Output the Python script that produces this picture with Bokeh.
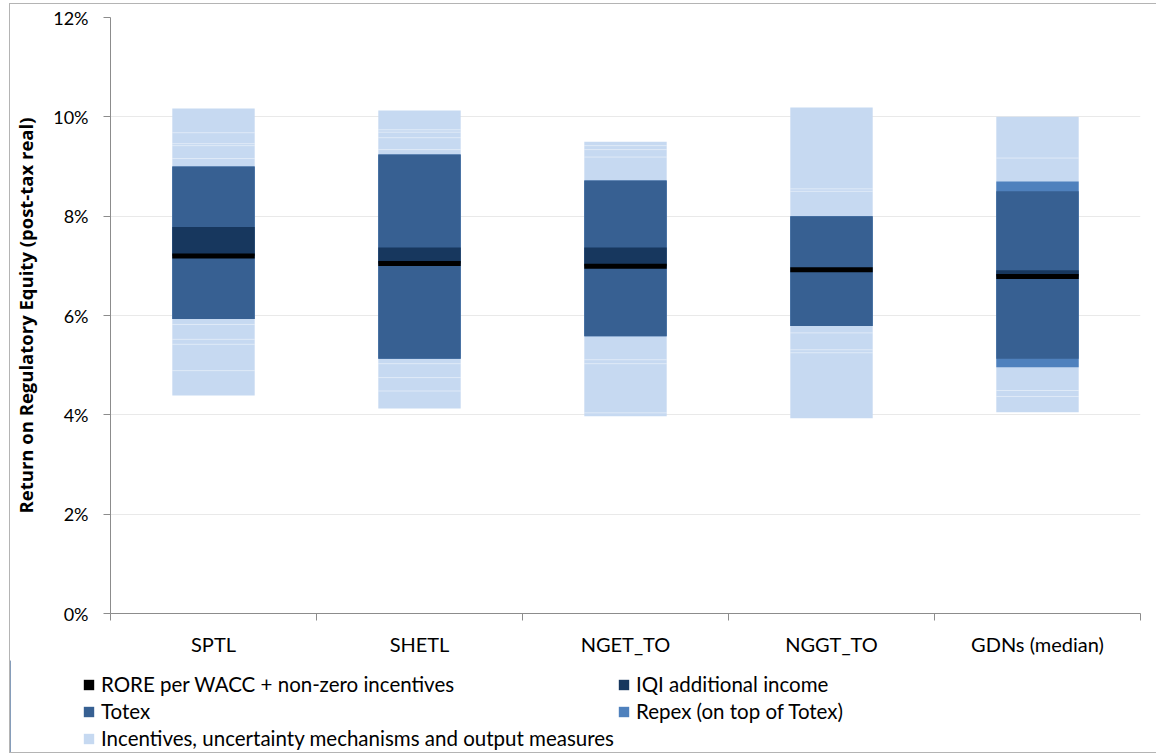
import numpy as np
from bokeh.plotting import figure
from bokeh.layouts import column
from bokeh.models import (ColumnDataSource, FixedTicker, PrintfTickFormatter,
                          Legend, LegendItem, Range1d)
from bokeh.embed import file_html
from bokeh.resources import INLINE

# ---------------- data (percent, post-tax real) ----------------
categories = ["SPTL", "SHETL", "NGET_TO", "NGGT_TO", "GDNs (median)"]
incentives_low = [4.39, 4.13, 3.97, 3.93, 4.05]
incentives_high = [10.17, 10.13, 9.50, 10.19, 10.00]
repex_low = [5.93, 5.13, 5.58, 5.79, 4.96]
repex_high = [9.00, 9.24, 8.72, 8.00, 8.70]
totex_low = [5.93, 5.13, 5.58, 5.79, 5.13]
totex_high = [9.00, 9.24, 8.72, 8.00, 8.50]
iqi_high = [7.78, 7.37, 7.37, 6.92, 6.91]
rore = [7.20, 7.045, 6.99, 6.92, 6.785]
incentive_breaks = [
    [9.68, 9.46, 9.42, 9.16, 5.82, 5.52, 5.42, 4.89],
    [9.74, 9.69, 9.58, 9.34, 5.03, 4.75, 4.48],
    [9.42, 9.34, 9.19, 5.11, 5.03, 4.04],
    [8.55, 8.50, 5.65, 5.31, 5.25],
    [9.17, 4.49, 4.37],
]
y_ticks = [0, 2, 4, 6, 8, 10, 12]
legend_labels = [
    "RORE per WACC + non-zero incentives",
    "IQI additional income",
    "Totex",
    "Repex (on top of Totex)",
    "Incentives, uncertainty mechanisms and output measures",
]

# ---------------- styling ----------------
FONT = "Lato"
C_LIGHT = "#c6d9f1"
C_TOTEX = "#376092"
C_IQI = "#17375e"
C_REPEX = "#4f81bd"
C_RORE = "#000000"
AXIS_C = "#8c8c8c"
BAR_W = 0.4

xs = np.arange(1, len(categories) + 1)

src = ColumnDataSource(dict(
    x=xs, inc_lo=incentives_low, inc_hi=incentives_high,
    rep_lo=repex_low, rep_hi=repex_high,
    tot_lo=totex_low, tot_hi=totex_high,
    iqi_hi=iqi_high, rore=rore,
))

bx0, bx1, by = [], [], []
for xi, brks in zip(xs, incentive_breaks):
    for b in brks:
        bx0.append(xi - BAR_W / 2)
        bx1.append(xi + BAR_W / 2)
        by.append(b)
brk_src = ColumnDataSource(dict(x0=bx0, x1=bx1, y=by))

p = figure(width=1146, height=656,
           x_range=Range1d(0.5, len(categories) + 0.5), y_range=Range1d(0, 12),
           output_backend="svg", toolbar_location=None,
           min_border_left=97, min_border_right=16, min_border_top=13,
           min_border_bottom=47)
p.outline_line_color = None
p.background_fill_color = "white"
p.border_fill_color = "white"

p.vbar(x="x", bottom="inc_lo", top="inc_hi", width=BAR_W, source=src,
       fill_color=C_LIGHT, line_color=None)
p.segment(x0="x0", y0="y", x1="x1", y1="y", source=brk_src,
          line_color="white", line_alpha=0.45, line_width=1)
p.vbar(x="x", bottom="rep_lo", top="rep_hi", width=BAR_W, source=src,
       fill_color=C_REPEX, line_color=None)
p.vbar(x="x", bottom="tot_lo", top="tot_hi", width=BAR_W, source=src,
       fill_color=C_TOTEX, line_color=None)
p.vbar(x="x", bottom="rore", top="iqi_hi", width=BAR_W, source=src,
       fill_color=C_IQI, line_color=None)
p.rect(x="x", y="rore", width=BAR_W, height=5, height_units="screen",
       source=src, fill_color=C_RORE, line_color=None)

# ---------------- axes ----------------
p.xgrid.visible = False
p.ygrid.ticker = FixedTicker(ticks=y_ticks)
p.ygrid.grid_line_color = "#e9e9e9"

yax = p.yaxis[0]
yax.ticker = FixedTicker(ticks=y_ticks)
yax.formatter = PrintfTickFormatter(format="%d%%")
yax.axis_line_color = AXIS_C
yax.major_tick_line_color = AXIS_C
yax.major_tick_out = 7
yax.major_tick_in = 0
yax.minor_tick_line_color = None
yax.major_label_standoff = 15
yax.major_label_text_font = FONT
yax.major_label_text_font_size = "18px"
yax.major_label_text_color = "black"
yax.axis_label = "Return on Regulatory Equity (post-tax real)"
yax.axis_label_text_font = "Open Sans"
yax.axis_label_text_font_size = "18.5px"
yax.axis_label_text_font_style = "bold"
yax.axis_label_text_color = "black"
yax.axis_label_standoff = 12

xax = p.xaxis[0]
xax.ticker = FixedTicker(ticks=list(xs),
                         minor_ticks=list(np.arange(0.5, len(categories) + 1, 1.0)))
xax.major_label_overrides = {int(k): v for k, v in zip(xs, categories)}
xax.axis_line_color = AXIS_C
xax.major_tick_line_color = None
xax.major_tick_out = 0
xax.major_tick_in = 0
xax.minor_tick_line_color = AXIS_C
xax.minor_tick_out = 7
xax.minor_tick_in = 0
xax.major_label_standoff = 11
xax.major_label_text_font = FONT
xax.major_label_text_font_size = "20px"
xax.major_label_text_color = "black"

# ---------------- legend (separate strip below the plot) ----------------
lg = figure(width=1146, height=92, x_range=Range1d(0, 1), y_range=Range1d(0, 1),
            x_axis_location=None, y_axis_location=None,
            output_backend="svg", toolbar_location=None,
            min_border_left=0, min_border_right=0, min_border_top=0,
            min_border_bottom=0)
lg.frame_align = False
lg.grid.visible = False
lg.outline_line_color = None
lg.border_fill_color = "white"
lg.background_fill_color = "white"
legend_colors = [C_RORE, C_IQI, C_TOTEX, C_REPEX, C_LIGHT]
dummy = ColumnDataSource(dict(x=[-10], b=[0], t=[1]))
items = []
for lab, col in zip(legend_labels, legend_colors):
    r = lg.vbar(x="x", bottom="b", top="t", width=0.1, source=dummy,
                fill_color=col, line_color=None)
    items.append(LegendItem(label=lab, renderers=[r]))

legend = Legend(items=items, location=(72, 2), orientation="horizontal", ncols=2)
legend.label_text_font = FONT
legend.label_text_font_size = "20.5px"
legend.label_text_color = "black"
legend.glyph_width = 13
legend.glyph_height = 13
legend.label_standoff = 6
legend.spacing = 3
legend.padding = 0
legend.margin = 0
legend.border_line_color = None
legend.background_fill_alpha = 0
lg.add_layout(legend, "center")

layout = column(p, lg, spacing=0,
                styles={"margin-left": "9px", "margin-top": "3px",
                        "border-left": "1px solid #b4b4b4",
                        "border-top": "1px solid #b4b4b4",
                        "border-bottom": "1px solid #b4b4b4"})

open("out.html", "w").write(file_html(layout, INLINE))
